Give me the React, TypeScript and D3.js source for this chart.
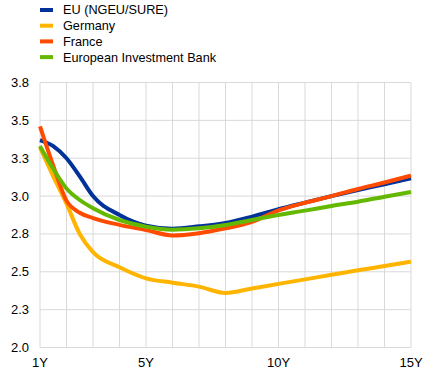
import React from 'react';
import * as d3 from 'd3';

// maturities in years
const maturities = [1, 1.5, 2, 2.5, 3, 4, 5, 6, 7, 8, 9, 10, 11, 12, 13, 14, 15];

const euYields = [3.37, 3.33, 3.25, 3.13, 3.0, 2.875, 2.805, 2.785, 2.8, 2.822, 2.864, 2.913, 2.957, 3.0, 3.04, 3.078, 3.118];
const germanyYields = [3.32, 3.13, 2.95, 2.75, 2.63, 2.53, 2.457, 2.428, 2.402, 2.36, 2.39, 2.42, 2.45, 2.48, 2.51, 2.538, 2.567];
const franceYields = [3.46, 3.2, 2.97, 2.89, 2.855, 2.81, 2.776, 2.74, 2.755, 2.787, 2.83, 2.905, 2.956, 3.0, 3.047, 3.09, 3.135];
const eibYields = [3.33, 3.18, 3.05, 2.974, 2.92, 2.842, 2.798, 2.778, 2.787, 2.809, 2.842, 2.875, 2.904, 2.935, 2.963, 2.996, 3.027];

const seriesNames = ['EU (NGEU/SURE)', 'Germany', 'France', 'European Investment Bank'];
const seriesColors = ['#003299', '#ffb400', '#ff4b00', '#65b800'];
const seriesValues = [euYields, germanyYields, franceYields, eibYields];

const yTicks = [2.0, 2.25, 2.5, 2.75, 3.0, 3.25, 3.5, 3.75];
const xTickLabels = [1, 5, 10, 15];

const width = 437;
const height = 391;
const margin = { top: 82.5, right: 26, bottom: 43.5, left: 40 };

export default function App() {
  const x = d3.scaleLinear().domain([1, 15]).range([margin.left, width - margin.right]);
  const y = d3.scaleLinear().domain([2.0, 3.75]).range([height - margin.bottom, margin.top]);

  const line = d3
    .line<number>()
    .x((_, i) => x(maturities[i]))
    .y((d) => y(d))
    .curve(d3.curveMonotoneX);

  const gridYears = d3.range(1, 16);
  const font = '"Liberation Sans", Arial, sans-serif';

  return (
    <svg
      width={width}
      height={height}
      style={{ position: 'absolute', left: 0, top: 0, background: '#fff' }}
      fontFamily={font}
    >
      {/* legend */}
      {seriesNames.map((name, i) => (
        <g key={name} transform={`translate(40,${10 + i * 15.7})`}>
          <rect x={0} y={-2} width={13} height={4} fill={seriesColors[i]} />
          <text x={23} y={0} dy="0.35em" fontSize={12.7} fill="#000">
            {name}
          </text>
        </g>
      ))}

      {/* grid */}
      {gridYears.map((yr) => (
        <line
          key={'gx' + yr}
          x1={x(yr)}
          x2={x(yr)}
          y1={y(3.75)}
          y2={y(2.0)}
          stroke="#d9d9d9"
          strokeWidth={1}
        />
      ))}
      {yTicks.map((t) => (
        <line
          key={'gy' + t}
          x1={x(1)}
          x2={x(15)}
          y1={y(t)}
          y2={y(t)}
          stroke="#d9d9d9"
          strokeWidth={1}
        />
      ))}

      {/* y labels */}
      {yTicks.map((t) => (
        <text
          key={'ly' + t}
          x={29}
          y={y(t)}
          dy="0.35em"
          textAnchor="end"
          fontSize={13}
          fill="#000"
        >
          {d3.format('.1f')(t)}
        </text>
      ))}

      {/* x labels */}
      {xTickLabels.map((t) => (
        <text
          key={'lx' + t}
          x={x(t)}
          y={362}
          dy="0.35em"
          textAnchor="middle"
          fontSize={13}
          fill="#000"
        >
          {t + 'Y'}
        </text>
      ))}

      {/* series */}
      {seriesValues.map((vals, i) => (
        <path
          key={seriesNames[i]}
          d={line(vals) || ''}
          fill="none"
          stroke={seriesColors[i]}
          strokeWidth={4}
          strokeLinejoin="round"
        />
      ))}
    </svg>
  );
}
